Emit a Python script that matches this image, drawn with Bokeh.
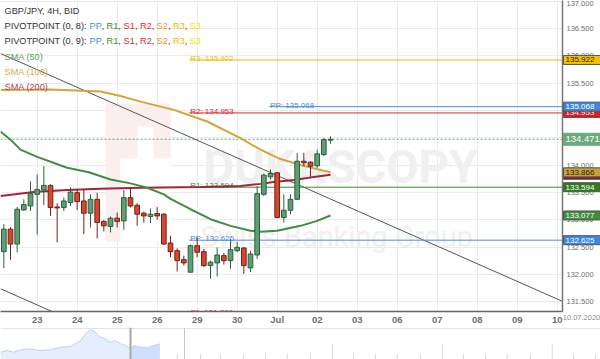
from bokeh.plotting import figure
from bokeh.models import (Range1d, FixedTicker, Label, ColumnDataSource, Span,
                          PrintfTickFormatter, BoxAnnotation)
from bokeh.layouts import column, row
from bokeh.embed import file_html
from bokeh.resources import INLINE
from bokeh.core.properties import value

FONT = "Liberation Sans"

# ---------------- data (GBP/JPY, 4H, BID) ----------------
# bar slot: 4H bars, 0 = first bar of 23 June, 6 bars per trading day
bar_slot = list(range(-5, 45))
opens = [132.415, 132.827, 132.554, 133.178, 133.251, 133.464, 133.542, 133.627, 133.233, 133.222,
         133.313, 133.494, 133.342, 133.118, 133.373, 132.967, 132.876, 133.027, 132.978, 133.403,
         133.264, 133.118, 133.058, 133.113, 133.100, 132.573, 132.433, 132.269, 132.040, 132.524,
         132.415, 132.160, 132.209, 132.342, 132.251, 132.433, 132.482, 132.118, 132.354, 133.464,
         133.785, 133.858, 133.040, 133.173, 133.373, 134.069, 134.051, 133.987, 134.191, 134.455]
highs = [132.918, 132.864, 133.233, 133.373, 133.700, 133.827, 133.978, 133.645, 133.300, 133.409,
         133.591, 133.554, 133.554, 133.464, 133.494, 132.996, 133.058, 133.131, 133.542, 133.585,
         133.300, 133.149, 133.204, 133.233, 133.118, 132.705, 132.476, 132.342, 132.542, 132.676,
         132.464, 132.251, 132.494, 132.391, 132.645, 132.596, 132.494, 132.433, 133.614, 133.845,
         133.918, 133.869, 133.464, 133.464, 134.222, 134.222, 134.069, 134.282, 134.494, 134.524]
lows = [132.113, 132.269, 132.403, 133.160, 133.160, 132.724, 133.264, 133.069, 132.585, 133.160,
        133.251, 133.172, 132.736, 132.858, 132.658, 132.785, 132.767, 132.858, 132.815, 133.222,
        132.887, 132.949, 132.936, 132.996, 132.542, 132.313, 132.051, 132.160, 132.027, 132.313,
        132.131, 131.918, 131.960, 132.178, 132.100, 132.404, 132.009, 132.040, 132.282, 133.433,
        133.736, 133.027, 132.949, 133.100, 133.360, 133.978, 133.785, 133.948, 134.160, 134.391]
closes = [132.827, 132.554, 133.191, 133.276, 133.476, 133.554, 133.627, 133.222, 133.215, 133.342,
          133.505, 133.331, 133.118, 133.373, 132.949, 132.887, 133.027, 132.967, 133.403, 133.251,
          133.100, 133.069, 133.100, 133.069, 132.554, 132.415, 132.251, 132.209, 132.524, 132.404,
          132.160, 132.222, 132.354, 132.251, 132.451, 132.494, 132.160, 132.373, 133.476, 133.814,
          133.845, 133.040, 133.173, 133.373, 134.069, 134.040, 133.978, 134.204, 134.464, 134.471]

day_tick_slot = [-6, 0, 6, 12, 18, 24, 30, 36, 42, 48, 54, 60, 66, 72, 78]
day_labels = ["22", "23", "24", "25", "26", "29", "30", "Jul", "02", "03", "06", "07", "08", "09", "10"]
price_ticks = [131.5, 132.0, 132.5, 133.0, 133.5, 134.0, 134.5, 135.0, 135.5, 136.0, 136.5, 137.0]
end_date = "10.07.2020"

sma50_x = [-5.5, -4, -2.5, 0, 4.5, 7.75, 11, 14, 16.5, 19, 20, 23, 26, 29, 32, 33.5, 36, 39.5, 42, 44]
sma50_y = [134.614, 134.464, 134.282, 134.149, 133.949, 133.869, 133.736, 133.664, 133.585, 133.464,
           133.382, 133.191, 133.009, 132.887, 132.796, 132.778, 132.796, 132.887, 132.978, 133.077]
sma100_x = [-5.5, 2, 9.5, 12.5, 15.5, 20.5, 25.5, 30.5, 33.5, 36.5, 39.5, 42.5, 44]
sma100_y = [135.373, 135.382, 135.345, 135.264, 135.160, 135.009, 134.796, 134.491, 134.282, 134.109,
            134.000, 133.909, 133.866]
sma200_x = [-5.5, -0.5, 4.5, 9.5, 15.5, 24.5, 30.5, 33.5, 35.5, 38.5, 41.5, 44]
sma200_y = [133.433, 133.505, 133.542, 133.567, 133.582, 133.596, 133.615, 133.655, 133.691, 133.727,
            133.782, 133.820]

pivot_names = ["R3", "R2", "R1", "PP", "S1", "PP"]
pivot_values = [135.922, 134.953, 133.594, 132.625, 131.266, 135.068]
pivot_start = [22.8, 22.8, 22.8, 22.8, 22.8, 34.8]
pivot_colors = ["#f2b900", "#e6262b", "#3f8a2c", "#4a8de6", "#d93030", "#4a8de6"]

trend_upper_x = [-5.5, 78.8]
trend_upper_y = [136.040, 131.506]
trend_lower_x = [-5.5, 10.0]
trend_lower_y = [131.736, 130.902]

last_price = closes[-1]

# navigator (history overview) values
nav_x = [0, 6.7, 13.3, 20, 30, 40, 50, 60, 70, 80, 85, 90, 95, 100, 105, 110, 115, 120, 125, 130,
         133.3, 140, 146.7, 153.3, 159.3]
nav_v = [7.3, 9, 7.3, 9.7, 10.7, 9, 9.7, 12.3, 13, 19, 25.7, 29.7, 27.3, 22.3, 20.7, 17.3, 19, 15.7,
         14, 10.7, 14, 12.3, 11.7, 14, 15.7]
nav_window = [130, 160]
nav_tick_x = [176.7, 200, 220, 243, 265, 286.7, 310, 331.7, 353, 375, 396.7, 420, 441.7, 463, 485,
              506.7, 530, 551.7, 573, 595]
nav_tick_major = [0, 0, 0, 0, 0, 0, 0, 1, 0, 0, 0, 0, 1, 0, 0, 0, 0, 1, 0, 0]

# ---------------- main chart ----------------
FRAME_H = 313
y_range = Range1d(131.32, 137.01)
p = figure(width=600, height=327, x_range=Range1d(-5.5, 78.8), y_range=y_range,
           output_backend="svg", toolbar_location=None, y_axis_location="right",
           min_border_left=0, min_border_top=0, min_border_right=38, min_border_bottom=14,
           background_fill_color="white", border_fill_color="white")
p.outline_line_color = None

p.xaxis.ticker = FixedTicker(ticks=day_tick_slot)
p.xaxis.major_label_overrides = {t: lab for t, lab in zip(day_tick_slot, day_labels)}
p.xaxis.major_tick_line_color = None
p.xaxis.minor_tick_line_color = None
p.xaxis.major_tick_out = 0
p.xaxis.major_tick_in = 0
p.xaxis.minor_tick_out = 0
p.xaxis.axis_line_color = "#666666"
p.xaxis.axis_line_width = 1.5
p.xaxis.major_label_standoff = 2
p.xaxis.major_label_text_font = FONT
p.xaxis.major_label_text_font_size = "9.5px"
p.xaxis.major_label_text_font_style = "bold"
p.xaxis.major_label_text_color = "#707070"

p.yaxis.ticker = FixedTicker(ticks=price_ticks)
p.yaxis.formatter = PrintfTickFormatter(format="%.3f")
p.yaxis.major_tick_line_color = None
p.yaxis.minor_tick_line_color = None
p.yaxis.major_tick_out = 0
p.yaxis.major_tick_in = 0
p.yaxis.minor_tick_out = 0
p.yaxis.axis_line_color = "#777777"
p.yaxis.axis_line_width = 1.5
p.yaxis.major_label_standoff = 4
p.yaxis.major_label_text_font = FONT
p.yaxis.major_label_text_font_size = "7.5px"
p.yaxis.major_label_text_color = "#707070"

p.xgrid.grid_line_color = "#ebebeb"
p.ygrid.grid_line_color = "#ebebeb"

# watermark
def wm_box(left, right, top, bottom, color):
    p.add_layout(BoxAnnotation(left=left, right=right, top=FRAME_H - top, bottom=FRAME_H - bottom,
                               left_units="screen", right_units="screen", top_units="screen",
                               bottom_units="screen", fill_color=color, fill_alpha=1.0,
                               line_color=None, level="underlay"))


wm_box(105, 170, 105, 243, "#fbeeee")
wm_box(120, 170, 160, 243, "white")
wm_box(137, 153, 128, 160, "white")
p.add_layout(Label(x=203, y=FRAME_H - 168, x_units="screen", y_units="screen", text="DUKASCOPY",
                   text_font="Roboto", text_font_style="bold", text_font_size="47px",
                   text_color="#f0f0f0", text_baseline="alphabetic", level="underlay"))
p.add_layout(Label(x=200, y=FRAME_H - 238, x_units="screen", y_units="screen",
                   text="Swiss Banking Group", text_font="Roboto", text_font_size="29px",
                   text_color="#f0f0f0", text_baseline="alphabetic", level="underlay"))

# current price line
p.add_layout(Span(location=last_price, dimension="width", line_color="#6aaa7a",
                  line_dash="2 2", line_width=1, level="underlay"))

# trend lines
p.line(trend_upper_x, trend_upper_y, line_color="#555555", line_width=1)
p.line(trend_lower_x, trend_lower_y, line_color="#555555", line_width=1)

# pivot lines
x_end = [80] * len(pivot_values)
p.segment(x0=pivot_start, y0=pivot_values, x1=x_end, y1=pivot_values,
          line_color=pivot_colors, line_width=1)
p.text(x=pivot_start, y=pivot_values,
       text=[f"{n}: {v:.3f}" for n, v in zip(pivot_names, pivot_values)],
       text_color=pivot_colors, text_font=value(FONT), text_font_size="8px",
       text_baseline="alphabetic", text_align="left", x_offset=1, y_offset=-1.5)

# moving averages
p.line(sma100_x, sma100_y, line_color="#d4a63a", line_width=2)
p.line(sma200_x, sma200_y, line_color="#a3243c", line_width=2)
p.line(sma50_x, sma50_y, line_color="#3f8d3f", line_width=2)

# candles
up = [c >= o for o, c in zip(opens, closes)]
src = ColumnDataSource(dict(
    x=bar_slot, o=opens, h=highs, l=lows, c=closes,
    top=[max(o, c) for o, c in zip(opens, closes)],
    bot=[min(o, c) for o, c in zip(opens, closes)],
    fill=["#5e9f76" if u else "#d9452f" for u in up],
    edge=["#2d5e3c" if u else "#6e2417" for u in up],
))
p.segment(x0="x", y0="l", x1="x", y1="h", line_color="edge", line_width=1, source=src)
p.vbar(x="x", top="top", bottom="bot", width=0.7, fill_color="fill", line_color="edge",
       line_width=1, source=src)


def legend_text(x, cy, text, color, size="9.2px"):
    p.add_layout(Label(x=x, y=FRAME_H - cy, x_units="screen", y_units="screen", text=text,
                       text_color=color, text_font=FONT, text_font_size=size,
                       text_baseline="middle"))


legend_text(4, 12.7, "GBP/JPY, 4H, BID", "#333333")
token_colors = ["#4a8de6", "#3f8a2c", "#d5302c", "#f0282d", "#ff8a1e", "#f2b900", "#f2e200"]
token_names = ["PP", "R1", "S1", "R2", "S2", "R3", "S3"]
token_x = [89, 106, 123, 139.5, 156, 172.5, 189]
comma_x = [101.3, 117.8, 134.4, 151.3, 167.4, 184.3]
for cy, prm in [(27.7, "(0, 8)"), (42.7, "(0, 9)")]:
    legend_text(4, cy, f"PIVOTPOINT {prm}: ", "#333333")
    for tx, name, col in zip(token_x, token_names, token_colors):
        legend_text(tx, cy, name, col)
    for cx in comma_x:
        legend_text(cx, cy, ",", "#333333")
legend_text(4, 58, "SMA (50)", "#5e9e5e")
legend_text(4, 73, "SMA (100)", "#d9a94a")
legend_text(4, 88, "SMA (200)", "#b5405a")

# ---------------- price badges (overlay on the right price axis) ----------------
badge_vals = [pivot_values[0], pivot_values[1], pivot_values[5], last_price, sma200_y[-1],
              sma100_y[-1], pivot_values[2], sma50_y[-1], pivot_values[3]]
badge_bg = ["#f5c000", "#e8161b", "#3d86e3", "#6aab7d", "#8e1b30", "#c9a035", "#2e7a1e",
            "#3d8d3d", "#3d86e3"]
badge_fg = ["#222222", "#ffffff", "#ffffff", "#ffffff", "#ffffff", "#222222", "#ffffff",
            "#ffffff", "#ffffff"]
badge_h = [9, 9, 9, 12, 9, 9, 9, 9, 9]
badge_fs = ["8px", "8px", "8px", "9.5px", "8px", "8px", "8px", "8px", "8px"]
badge_edge = ["#555555", "#555555", "#555555", "#6aab7d", "#555555", "#555555", "#555555",
              "#555555", "#555555"]

bf = figure(width=38, height=327, x_range=Range1d(0, 38), y_range=y_range,
            output_backend="svg", toolbar_location=None, y_axis_location=None,
            min_border_left=0, min_border_right=0, min_border_top=0, min_border_bottom=14,
            background_fill_alpha=0, border_fill_alpha=0, margin=(0, 0, 0, -38))
bf.outline_line_color = None
bf.grid.visible = False
for v, bg, fg, h, fs, edge in zip(badge_vals, badge_bg, badge_fg, badge_h, badge_fs, badge_edge):
    bf.rect(x=[19.5], y=[v], width=37, height=h, height_units="screen", fill_color=bg,
            line_color=edge, line_width=1)
    bf.text(x=[3], y=[v], text=[f"{v:.3f}"], text_color=fg, text_font=value(FONT),
            text_font_size=fs, text_baseline="middle", text_align="left")
bf.xaxis.ticker = FixedTicker(ticks=[19])
bf.xaxis.major_label_overrides = {19: end_date}
bf.xaxis.axis_line_color = None
bf.xaxis.major_tick_line_color = None
bf.xaxis.minor_tick_line_color = None
bf.xaxis.major_tick_out = 0
bf.xaxis.minor_tick_out = 0
bf.xaxis.major_label_standoff = 3
bf.xaxis.major_label_text_font = FONT
bf.xaxis.major_label_text_font_size = "7.5px"
bf.xaxis.major_label_text_color = "#888888"

# ---------------- navigator ----------------
nav = figure(width=600, height=32, x_range=Range1d(0, 600), y_range=Range1d(0, 32),
             output_backend="svg", toolbar_location=None, x_axis_location=None,
             y_axis_location=None, min_border=0, background_fill_color="white",
             border_fill_color="white")
nav.outline_line_color = None
nav.grid.visible = False
nav.varea(x=nav_x, y1=[0] * len(nav_x), y2=nav_v, fill_color="#e5eefc")
win_x = [x for x in nav_x if nav_window[0] <= x <= nav_window[1]]
win_v = [v for x, v in zip(nav_x, nav_v) if nav_window[0] <= x <= nav_window[1]]
nav.varea(x=win_x, y1=[0] * len(win_x), y2=win_v, fill_color="#cfe0fa")
nav.line(nav_x, nav_v, line_color="#bcd2f5", line_width=1)
nav.segment(x0=nav_tick_x, y0=[0] * len(nav_tick_x), x1=nav_tick_x,
            y1=[16 if m else 6 for m in nav_tick_major], line_color="#dadada", line_width=1)
nav.add_layout(Span(location=31, dimension="width", line_color="#e3e3e3", line_width=1))
nav.add_layout(Span(location=nav_window[0], dimension="height", line_color="#a8a8a8", line_width=2))
nav.add_layout(Span(location=184, dimension="height", line_color="#c8c8c8", line_width=1))

layout = column(row(p, bf, spacing=0), nav, spacing=0)
open("out.html", "w").write(file_html(layout, INLINE))
